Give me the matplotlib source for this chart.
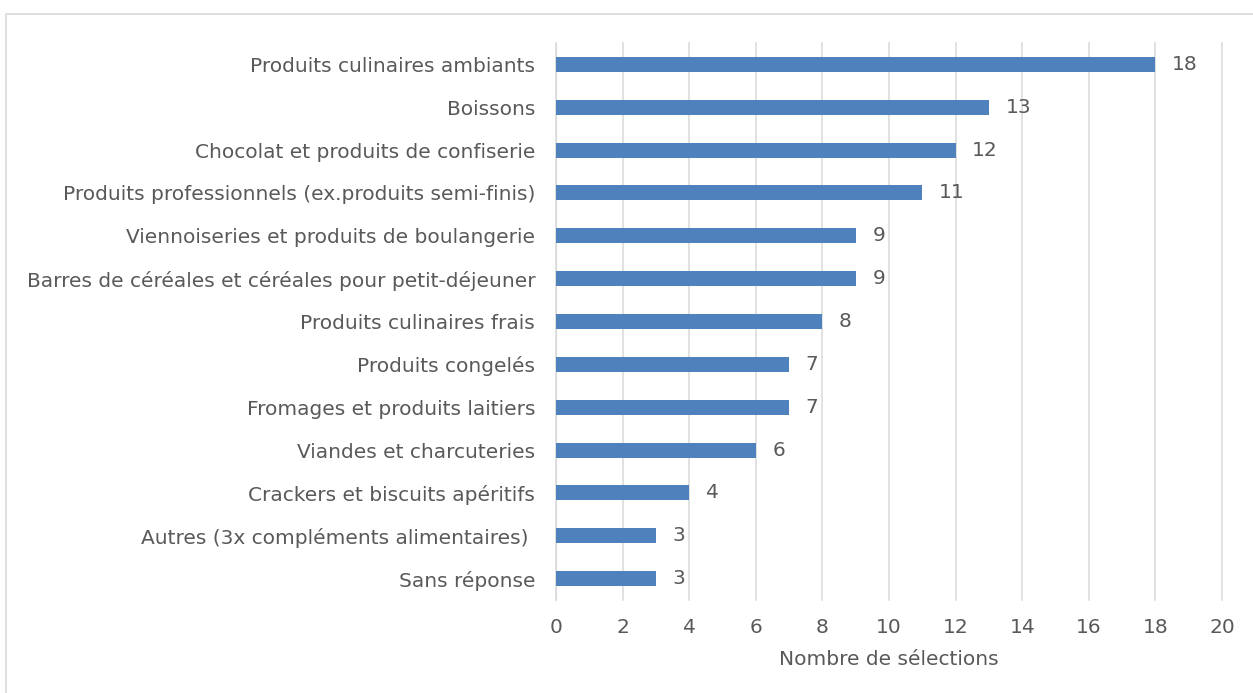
import matplotlib
matplotlib.use("Agg")
import matplotlib.pyplot as plt
from matplotlib.patches import Rectangle

categories = [
    "Produits culinaires ambiants",
    "Boissons",
    "Chocolat et produits de confiserie",
    "Produits professionnels (ex.produits semi-finis)",
    "Viennoiseries et produits de boulangerie",
    "Barres de céréales et céréales pour petit-déjeuner",
    "Produits culinaires frais",
    "Produits congelés",
    "Fromages et produits laitiers",
    "Viandes et charcuteries",
    "Crackers et biscuits apéritifs",
    "Autres (3x compléments alimentaires) ",
    "Sans réponse",
]
values = [18, 13, 12, 11, 9, 9, 8, 7, 7, 6, 4, 3, 3]
xticks = list(range(0, 21, 2))

grey_txt = "#595959"
bar_col = "#4F81BD"
fs = 14.5

fig = plt.figure(figsize=(12.53, 6.93), dpi=100)
ax = fig.add_axes([556 / 1253, 1 - 600 / 693, 666 / 1253, 557 / 693])

# categories top to bottom
pos = list(range(len(categories)))[::-1]
ax.barh(pos, values, height=0.35, color=bar_col, zorder=3)
for p, v in zip(pos, values):
    ax.text(v + 0.5, p, str(v), va="center", ha="left", fontsize=fs, color=grey_txt)

ax.set_yticks(pos)
ax.set_yticklabels(categories, fontsize=fs, color=grey_txt)
ax.set_ylim(-0.5, len(categories) - 0.5)
ax.set_xlim(0, 20)
ax.set_xticks(xticks)
ax.set_xticklabels([str(t) for t in xticks], fontsize=fs, color=grey_txt)
ax.tick_params(axis="y", length=0, pad=15)
ax.tick_params(axis="x", length=0, pad=13)
ax.grid(axis="x", color="#D9D9D9", linewidth=1.1, zorder=0)
for gl in ax.get_xgridlines():
    gl.set_clip_on(False)
for s in ["top", "right", "bottom"]:
    ax.spines[s].set_visible(False)
ax.spines["left"].set_color("#D9D9D9")
ax.set_xlabel("Nombre de sélections", fontsize=fs, color=grey_txt, labelpad=9)

# outer chart border (right and bottom edges fall outside the image)
fig.patches.append(Rectangle((6 / 1253, -0.05), 1.1, 1.05 - 14 / 693,
                             transform=fig.transFigure, fill=False,
                             edgecolor="#D9D9D9", linewidth=1.2))

fig.savefig("out.png", dpi=100)
